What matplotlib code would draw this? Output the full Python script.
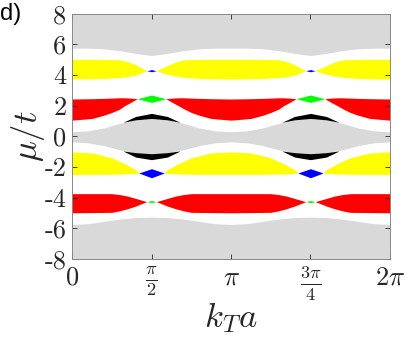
import matplotlib
matplotlib.use("Agg")
import matplotlib.pyplot as plt
import numpy as np

plt.rcParams["mathtext.fontset"] = "cm"

# one period in k (units of pi); the picture repeats it on [pi, 2pi]
gray_top_k  = [0, .1, .2, .3, .4, .5, .6, .7, .8, .9, 1]
gray_top_lo = [5.76, 5.76, 5.72, 5.6, 5.42, 5.28, 5.42, 5.6, 5.72, 5.76, 5.76]

yel_up_k  = [0, .1, .2, .3, .35, .4, .47, .53, .6, .65, .7, .8, .9, 1]
yel_up_hi = [5.03, 5.03, 5.03, 5.0, 4.88, 4.68, 4.29, 4.29, 4.62, 4.85, 4.99, 5.03, 5.03, 5.03]
yel_up_lo = [3.75, 3.76, 3.78, 3.84, 3.9, 4.0, 4.29, 4.29, 4.05, 3.95, 3.86, 3.78, 3.76, 3.75]

blue_up_k  = [.47, .5, .53]
blue_up_hi = [4.29, 4.36, 4.29]
blue_up_lo = [4.29, 4.22, 4.29]

red_up_k  = [0, .125, .2, .25, .3, .33, .37, .41, .59, .63, .67, .7, .75, .8, .875, 1]
red_up_hi = [2.44, 2.46, 2.48, 2.5, 2.52, 2.52, 2.5, 2.46, 2.46, 2.5, 2.52, 2.52, 2.5, 2.48, 2.46, 2.44]
red_up_lo = [1.06, 1.17, 1.38, 1.56, 1.78, 2.0, 2.22, 2.46, 2.46, 2.22, 2.0, 1.82, 1.56, 1.38, 1.17, 1.06]

green_up_k  = [.41, .5, .59]
green_up_hi = [2.46, 2.70, 2.46]
green_up_lo = [2.46, 2.22, 2.46]

gray_mid_k  = [0, .1, .2, .3, .4, .5, .6, .7, .8, .9, 1]
gray_mid_hi = [0.3, 0.36, 0.55, 0.85, 1.08, 1.17, 1.08, 0.85, 0.55, 0.36, 0.3]
gray_mid_lo = [-0.36, -0.42, -0.6, -0.88, -1.06, -1.13, -1.06, -0.88, -0.6, -0.42, -0.36]

black_k     = [.32, .4, .5, .6, .68]
black_up_hi = [0.92, 1.3, 1.5, 1.3, 0.92]
black_up_lo = [0.92, 1.08, 1.17, 1.08, 0.92]
black_lo_hi = [-0.95, -1.06, -1.13, -1.06, -0.95]
black_lo_lo = [-0.95, -1.35, -1.52, -1.35, -0.95]

yel_lo_k  = [0, .125, .25, .33, .4, .42, .58, .6, .67, .75, .875, 1]
yel_lo_hi = [-1.01, -1.08, -1.4, -1.78, -2.17, -2.39, -2.39, -2.17, -1.78, -1.4, -1.08, -1.01]
yel_lo_lo = [-2.48, -2.48, -2.47, -2.45, -2.42, -2.39, -2.39, -2.42, -2.45, -2.47, -2.48, -2.48]

blue_lo_k  = [.42, .5, .58]
blue_lo_hi = [-2.39, -2.11, -2.39]
blue_lo_lo = [-2.39, -2.70, -2.39]

red_lo_k  = [0, .25, .3, .35, .4, .47, .53, .6, .65, .7, .75, 1]
red_lo_hi = [-3.74, -3.74, -3.8, -3.9, -4.05, -4.26, -4.26, -4.05, -3.9, -3.8, -3.74, -3.74]
red_lo_lo = [-4.99, -4.96, -4.86, -4.72, -4.55, -4.26, -4.26, -4.55, -4.72, -4.86, -4.96, -4.99]

green_lo_k  = [.47, .5, .53]
green_lo_hi = [-4.26, -4.19, -4.26]
green_lo_lo = [-4.26, -4.33, -4.26]

gray_bot_k  = [0, .1, .2, .3, .4, .5, .6, .7, .8, .9, 1]
gray_bot_hi = [-5.75, -5.7, -5.55, -5.4, -5.3, -5.27, -5.3, -5.4, -5.55, -5.7, -5.75]

periods = [0, 1]
xticks = [0, np.pi / 2, np.pi, 3 * np.pi / 2, 2 * np.pi]
xticklabels = ["$0$", r"$\frac{\pi}{2}$", r"$\pi$", r"$\frac{3\pi}{4}$", r"$2\pi$"]
yticks = [-8, -6, -4, -2, 0, 2, 4, 6, 8]

GRAY = "#d9d9d9"
bands = [
    (gray_top_k, gray_top_lo, [8] * len(gray_top_k), GRAY),
    (yel_up_k, yel_up_lo, yel_up_hi, "#ffff00"),
    (blue_up_k, blue_up_lo, blue_up_hi, "#0000ff"),
    (red_up_k, red_up_lo, red_up_hi, "#ff0000"),
    (green_up_k, green_up_lo, green_up_hi, "#00ff00"),
    (gray_mid_k, gray_mid_lo, gray_mid_hi, GRAY),
    (black_k, black_up_lo, black_up_hi, "black"),
    (black_k, black_lo_lo, black_lo_hi, "black"),
    (yel_lo_k, yel_lo_lo, yel_lo_hi, "#ffff00"),
    (blue_lo_k, blue_lo_lo, blue_lo_hi, "#0000ff"),
    (red_lo_k, red_lo_lo, red_lo_hi, "#ff0000"),
    (green_lo_k, green_lo_lo, green_lo_hi, "#00ff00"),
    (gray_bot_k, [-8] * len(gray_bot_k), gray_bot_hi, GRAY),
]

fig = plt.figure(figsize=(4.07, 3.38), dpi=100)
ax = fig.add_axes([0.177, 0.234, 0.781, 0.725])

for k, lo, hi, c in bands:
    # join both periods into one polygon so no seam shows at k = pi
    kk = np.concatenate([(np.array(k) + p) * np.pi for p in periods])
    ll = np.concatenate([lo for p in periods])
    hh = np.concatenate([hi for p in periods])
    if k[0] == 0:
        ax.fill_between(kk, ll, hh, color=c, lw=0)
    else:
        for p in periods:
            ax.fill_between((np.array(k) + p) * np.pi, lo, hi, color=c, lw=0)

ax.set_xlim(0, 2 * np.pi)
ax.set_ylim(-8, 8)
ax.set_xticks(xticks)
ax.set_xticklabels(xticklabels, fontsize=19, color="#262626")
ax.set_yticks(yticks)
ax.set_yticklabels([str(v) for v in yticks], fontsize=19, color="#262626",
                   fontfamily="cmr10")
ax.tick_params(direction="in", top=True, right=True, length=3.5, width=0.6,
               color="#262626", pad=4)
for s in ax.spines.values():
    s.set_color("#888888")
    s.set_linewidth(0.7)

ax.set_xlabel(r"$k_T a$", fontsize=25, color="#262626", labelpad=-2)
ax.set_ylabel(r"$\mu/t$", fontsize=25, color="#262626", labelpad=-2)

fig.text(0.0, 0.99, "d)", fontsize=17, family="Liberation Sans", va="top", ha="left")

plt.savefig("out.png", dpi=100)
